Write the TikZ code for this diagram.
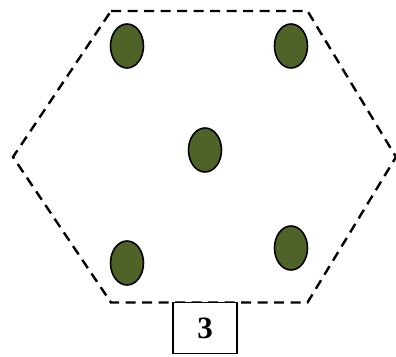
\documentclass[tikz,border=0pt]{standalone}
\usepackage{fontspec}
\setmainfont{Liberation Serif}
\usetikzlibrary{shapes.geometric, positioning}
\definecolor{olivefill}{HTML}{4F6228}
\tikzset{
  dot/.style={ellipse, minimum width=33pt, minimum height=44pt, inner sep=0pt,
    draw=black, line width=1.6pt, fill=olivefill},
  hexline/.style={draw=black, line width=2.4pt, dash pattern=on 10pt off 6.5pt},
  label box/.style={rectangle, minimum width=64pt, minimum height=51pt,
    draw=black, line width=1.8pt, fill=white, font=\fontsize{31}{31}\selectfont\bfseries},
}
\begin{document}
\begin{tikzpicture}[x=1pt, y=-1pt]
  \useasboundingbox (0,0) rectangle (396,356);

  % hexagon outline
  \coordinate (tl) at (111,11);
  \coordinate (tr) at (307.5,11);
  \coordinate (r) at (396,157);
  \coordinate (br) at (307.5,302.5);
  \coordinate (bl) at (111,302.5);
  \coordinate (l) at (13,157);
  \draw[hexline] (tl) -- (tr) -- (r) -- (br) -- (bl) -- (l) -- cycle;

  % dots
  \node[dot] (d1) at (127,46) {};
  \node[dot] (d2) at (291,46) {};
  \node[dot] (d3) at (205,150) {};
  \node[dot] (d4) at (127,263) {};
  \node[dot] (d5) at (291,248) {};

  \node[label box] (num) at (205,328) {3};
\end{tikzpicture}
\end{document}
